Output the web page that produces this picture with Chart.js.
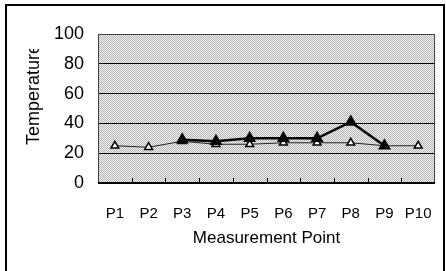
<!DOCTYPE html>
<html>
<head>
<meta charset="utf-8">
<script src="https://cdn.jsdelivr.net/npm/chart.js@4/dist/chart.umd.min.js"></script>
<style>
    html, body { margin: 0; padding: 0; background: #fff; }
    #wrap { position: relative; width: 446px; height: 271px; }
</style>
</head>
<body>
<div id="wrap"><canvas id="tempChart" width="446" height="271"></canvas></div>
<script>
// Данные графика
const points = ['P1', 'P2', 'P3', 'P4', 'P5', 'P6', 'P7', 'P8', 'P9', 'P10'];
const upperSeries = [null, null, 29, 28, 30, 30, 30, 41, 25, null];
const lowerSeries = [25, 24, 28, 26, 26, 27, 27, 27, 25, 25];
const yTicks = [0, 20, 40, 60, 80, 100];

// Серый растровый фон области построения
const pat = document.createElement('canvas');
pat.width = 2; pat.height = 2;
const pctx = pat.getContext('2d');
pctx.fillStyle = '#f2f2f2'; pctx.fillRect(0, 0, 2, 2);
pctx.fillStyle = '#b4b4b4'; pctx.fillRect(0, 0, 1, 1); pctx.fillRect(1, 1, 1, 1);

const framePlugin = {
    id: 'frame',
    beforeDraw(chart) {
        const { ctx, chartArea: a } = chart;
        ctx.save();
        ctx.fillStyle = ctx.createPattern(pat, 'repeat');
        ctx.fillRect(a.left, a.top, a.right - a.left, a.bottom - a.top);
        ctx.restore();
    },
    afterDraw(chart) {
        const { ctx, chartArea: a } = chart;
        const xs = chart.scales.x;
        ctx.save();
        // рамка области
        ctx.strokeStyle = '#444';
        ctx.lineWidth = 1;
        ctx.strokeRect(a.left + 0.5, a.top + 0.5, a.right - a.left - 1, a.bottom - a.top - 1);
        // ось X и засечки внутрь
        ctx.strokeStyle = '#000';
        ctx.beginPath();
        ctx.moveTo(a.left, a.bottom - 0.5);
        ctx.lineTo(a.right, a.bottom - 0.5);
        for (let i = 1; i < points.length; i++) {
            const x = Math.round(xs.getPixelForValue(i - 0.5)) + 0.5;
            ctx.moveTo(x, a.bottom);
            ctx.lineTo(x, a.bottom - 5);
        }
        ctx.stroke();
        // внешняя рамка
        ctx.lineWidth = 2;
        ctx.beginPath();
        ctx.moveTo(6, 280);
        ctx.lineTo(6, 5);
        ctx.lineTo(444, 5);
        ctx.lineTo(444, 280);
        ctx.stroke();
        // подпись оси Y (обрезана сверху)
        ctx.beginPath();
        ctx.rect(0, 49, 60, 200);
        ctx.clip();
        ctx.translate(39, 145);
        ctx.rotate(-Math.PI / 2);
        ctx.fillStyle = '#000';
        ctx.font = '18px "Liberation Sans", Arial, sans-serif';
        ctx.textAlign = 'left';
        ctx.textBaseline = 'alphabetic';
        ctx.fillText('Temperature', 0, 0);
        ctx.restore();
    }
};

const ctx = document.getElementById('tempChart').getContext('2d');
const tempChart = new Chart(ctx, {
    type: 'line',
    data: {
        labels: points,
        datasets: [{
            label: 'Upper',
            data: upperSeries,
            borderColor: '#000',
            borderWidth: 2.5,
            pointStyle: 'triangle',
            pointRadius: 5,
            pointBackgroundColor: '#000',
            pointBorderColor: '#000',
            tension: 0,
            spanGaps: false
        }, {
            label: 'Lower',
            data: lowerSeries,
            borderColor: '#222',
            borderWidth: 1,
            pointStyle: 'triangle',
            pointRadius: 4.5,
            pointBackgroundColor: '#fff',
            pointBorderColor: '#000',
            pointBorderWidth: 1.5,
            tension: 0
        }]
    },
    options: {
        responsive: false,
        animation: false,
        layout: { padding: { top: 34, right: 9, left: 0, bottom: 0 } },
        plugins: { legend: { display: false }, tooltip: { enabled: false } },
        scales: {
            y: {
                min: 0,
                max: 100,
                afterFit(scale) { scale.width = 98; },
                afterBuildTicks(scale) { scale.ticks = yTicks.map(v => ({ value: v })); },
                grid: { color: '#000', lineWidth: 1, drawTicks: false },
                border: { display: false },
                ticks: {
                    color: '#000',
                    padding: 14,
                    font: { family: '"Liberation Sans", Arial, sans-serif', size: 18 }
                }
            },
            x: {
                offset: true,
                afterFit(scale) { scale.height = 88; },
                grid: { display: false },
                border: { display: false },
                ticks: {
                    color: '#000',
                    padding: 14,
                    maxRotation: 0,
                    autoSkip: false,
                    font: { family: '"Liberation Sans", Arial, sans-serif', size: 15 }
                },
                title: {
                    display: true,
                    text: 'Measurement Point',
                    color: '#000',
                    padding: { top: 0, bottom: 22 },
                    font: { family: '"Liberation Sans", Arial, sans-serif', size: 17 }
                }
            }
        }
    },
    plugins: [framePlugin]
});
</script>
</body>
</html>
